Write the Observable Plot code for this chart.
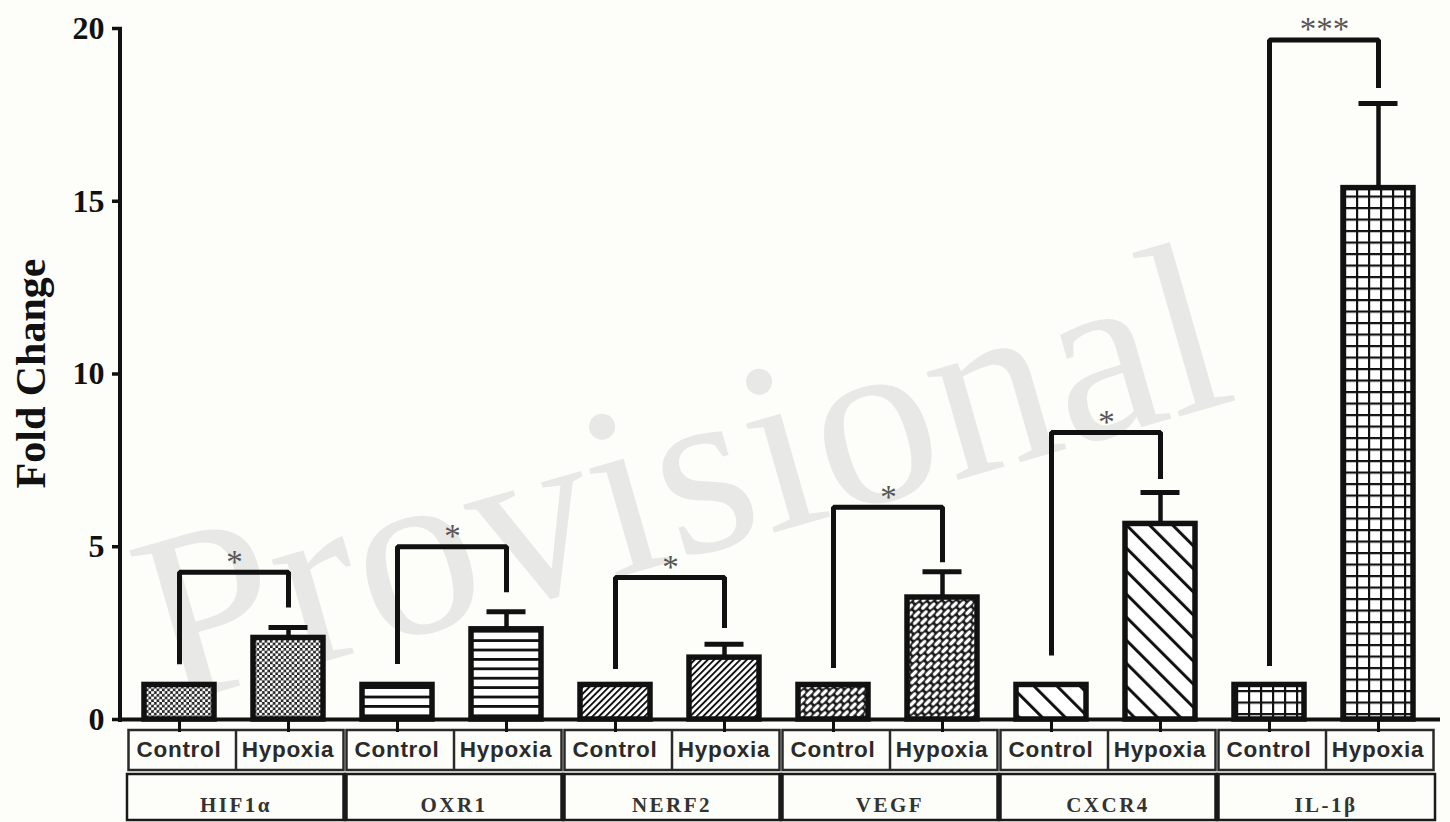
<!DOCTYPE html>
<html>
<head>
<meta charset="utf-8">
<script src="https://cdn.jsdelivr.net/npm/d3@7"></script>
<script src="https://cdn.jsdelivr.net/npm/@observablehq/plot@0.6"></script>
<style>
  html, body { margin: 0; padding: 0; background: #fdfdf9; }
  #chart { width: 1450px; height: 822px; overflow: hidden; }
</style>
</head>
<body>
<svg width="0" height="0" style="position:absolute">
  <defs>
    <pattern id="pat0" patternUnits="userSpaceOnUse" width="5.4" height="5.4">
      <rect width="5.4" height="5.4" fill="#1e1e1e"/>
      <circle cx="1.35" cy="1.35" r="1.6" fill="#fff"/>
      <circle cx="4.05" cy="4.05" r="1.6" fill="#fff"/>
    </pattern>
    <pattern id="pat1" patternUnits="userSpaceOnUse" width="10" height="9.4">
      <rect width="10" height="9.4" fill="#fff"/>
      <rect y="0" width="10" height="2.8" fill="#111"/>
    </pattern>
    <pattern id="pat2" patternUnits="userSpaceOnUse" width="4.6" height="10" patternTransform="rotate(45)">
      <rect width="4.6" height="10" fill="#fff"/>
      <rect width="1.9" height="10" fill="#111"/>
    </pattern>
    <pattern id="pat3" patternUnits="userSpaceOnUse" width="11" height="10" patternTransform="rotate(-45)">
      <rect width="11" height="10" fill="#151515"/>
      <rect x="0.8" y="0.8" width="8.6" height="3.4" rx="1.7" fill="#fff"/>
      <rect x="6.3" y="5.8" width="8.6" height="3.4" rx="1.7" fill="#fff"/>
      <rect x="-4.7" y="5.8" width="8.6" height="3.4" rx="1.7" fill="#fff"/>
    </pattern>
    <pattern id="pat4" patternUnits="userSpaceOnUse" width="16.3" height="10" patternTransform="rotate(-45)">
      <rect width="16.3" height="10" fill="#fff"/>
      <rect width="3" height="10" fill="#111"/>
    </pattern>
    <pattern id="pat5" patternUnits="userSpaceOnUse" width="12" height="11.5">
      <rect width="12" height="11.5" fill="#fff"/>
      <rect width="12" height="2.2" fill="#111"/>
      <rect width="2.2" height="11.5" fill="#111"/>
    </pattern>
  </defs>
</svg>
<div id="chart"></div>
<script>
// ---- data ----
const genes = ["HIF1α", "OXR1", "NERF2", "VEGF", "CXCR4", "IL-1β"];
const conditions = ["Control", "Hypoxia"];
const controlValues = [1, 1, 1, 1, 1, 1];
const hypoxiaValues = [2.36, 2.61, 1.79, 3.53, 5.66, 15.38];
const hypoxiaErrors = [0.30, 0.51, 0.39, 0.75, 0.91, 2.45];
const bracketTops = [4.26, 5.0, 4.11, 6.14, 8.31, 19.67];
const bracketLeftEnds = [1.60, 1.61, 1.46, 1.49, 1.85, 1.55];
const bracketRightEnds = [3.24, 3.68, 2.65, 4.55, 6.96, 18.28];
const significance = ["*", "*", "*", "*", "*", "***"];
const yTicks = [0, 5, 10, 15, 20];
const patterns = ["url(#pat0)", "url(#pat1)", "url(#pat2)", "url(#pat3)", "url(#pat4)", "url(#pat5)"];
const yLabel = "Fold Change";
const watermark = "Provisional";

// ---- build tables ----
const keyOf = (g, c) => g + "|" + c;
const keys = genes.flatMap(g => conditions.map(c => keyOf(g, c)));
const bars = genes.flatMap((g, i) => [
  {key: keyOf(g, "Control"), value: controlValues[i], fill: patterns[i]},
  {key: keyOf(g, "Hypoxia"), value: hypoxiaValues[i], fill: patterns[i]}
]);
const errs = genes.map((g, i) => ({key: keyOf(g, "Hypoxia"), value: hypoxiaValues[i], top: hypoxiaValues[i] + hypoxiaErrors[i]}));
const brackets = genes.flatMap((g, i) => [
  {gene: g, key: keyOf(g, "Control"), y: bracketLeftEnds[i]},
  {gene: g, key: keyOf(g, "Control"), y: bracketTops[i]},
  {gene: g, key: keyOf(g, "Hypoxia"), y: bracketTops[i]},
  {gene: g, key: keyOf(g, "Hypoxia"), y: bracketRightEnds[i]}
]);
const stars = genes.map((g, i) => ({key: keyOf(g, "Control"), y: bracketTops[i], text: significance[i]}));

const W = 1450, H = 822, ML = 122, MR = 10, MT = 28, MB = 103;
const step = (W - ML - MR) / keys.length;
const shift = -2.5;

const chart = Plot.plot({
  width: W, height: H,
  marginLeft: ML, marginRight: MR, marginTop: MT, marginBottom: MB,
  x: {domain: keys, padding: 0},
  y: {domain: [0, 20]},
  color: {type: "identity"},
  style: {background: "transparent", fontFamily: "Liberation Serif", color: "#111", overflow: "visible"},
  marks: [
    Plot.text([watermark], {frameAnchor: "top-left", dx: 655 - ML, dy: 385 - MT, rotate: -16,
      text: d => d, fontSize: 245, fill: "#e8e8e6", fontFamily: "Liberation Serif", textAnchor: "middle"}),
    Plot.barY(bars, {x: "key", y: "value", fill: "fill", stroke: "#111", strokeWidth: 5.5,
      insetLeft: 17, insetRight: 22, strokeLinejoin: "miter"}),
    Plot.ruleX(errs, {x: "key", y1: "value", y2: "top", stroke: "#111", strokeWidth: 4.5, dx: shift}),
    Plot.tickY(errs, {x: "key", y: "top", stroke: "#111", strokeWidth: 5, insetLeft: 32.5, insetRight: 37.5}),
    Plot.line(brackets, {x: "key", y: "y", z: "gene", stroke: "#111", strokeWidth: 5,
      strokeLinejoin: "miter", strokeLinecap: "butt", dx: shift}),
    Plot.text(stars, {x: "key", y: "y", text: "text", dx: step / 2 + shift, dy: -10, fontSize: 33,
      fill: "#555", fontFamily: "Liberation Serif", letterSpacing: 8}),
    Plot.ruleY([0], {stroke: "#111", strokeWidth: 4}),
    Plot.axisY({ticks: yTicks, tickSize: 10, tickPadding: 8, stroke: "#111", strokeWidth: 3.5,
      fontSize: 32, fontWeight: "bold", fontFamily: "Liberation Serif", fill: "#111", letterSpacing: 3,
      label: null, tickFormat: d => String(d)}),
    Plot.axisX({tickSize: 13, stroke: "#111", strokeWidth: 3, dx: shift, tickFormat: () => "", label: null})
  ]
});
document.getElementById("chart").appendChild(chart);

// ---- axis line, axis title and category table (layout drawn from the scales) ----
const svg = d3.select(chart);
const xs = chart.scale("x");
const ys = chart.scale("y");
const bw = xs.bandwidth;
svg.append("line")
  .attr("x1", ML - 2).attr("x2", ML - 2)
  .attr("y1", ys.apply(20) - 1).attr("y2", ys.apply(0) + 3)
  .attr("stroke", "#111").attr("stroke-width", 4);
svg.append("text")
  .attr("transform", `translate(45, ${(ys.apply(0) + ys.apply(20)) / 2}) rotate(-90)`)
  .attr("text-anchor", "middle")
  .attr("font-family", "Liberation Serif").attr("font-weight", "bold").attr("font-size", 42)
  .attr("fill", "#111").text(yLabel);

const r1 = {top: 730, bottom: 770};
const r2 = {top: 774, bottom: 820};
const tbl = svg.append("g");
genes.forEach((g, i) => {
  const left = xs.apply(keyOf(g, "Control"));
  const right = xs.apply(keyOf(g, "Hypoxia")) + bw;
  tbl.append("rect").attr("x", left + 1.5).attr("y", r1.top).attr("width", right - left - 3)
    .attr("height", r1.bottom - r1.top).attr("fill", "#fdfdf9").attr("stroke", "#2a2a2a").attr("stroke-width", 2.5);
  tbl.append("line").attr("x1", left + bw).attr("x2", left + bw).attr("y1", r1.top).attr("y2", r1.bottom)
    .attr("stroke", "#2a2a2a").attr("stroke-width", 2.5);
  tbl.append("rect").attr("x", left).attr("y", r2.top).attr("width", right - left)
    .attr("height", r2.bottom - r2.top).attr("fill", "#fdfdf9").attr("stroke", "#1a1a1a").attr("stroke-width", 2.5);
  if (i > 0) tbl.append("line").attr("x1", left).attr("x2", left).attr("y1", r2.top).attr("y2", r2.bottom)
    .attr("stroke", "#1a1a1a").attr("stroke-width", 5.5);
  conditions.forEach((c, j) => {
    tbl.append("text").attr("x", xs.apply(keyOf(g, c)) + bw / 2 + shift).attr("y", 757)
      .attr("text-anchor", "middle").attr("font-family", "Liberation Sans").attr("font-weight", "bold")
      .attr("font-size", 22.5).attr("letter-spacing", 0.7).attr("fill", "#2a2a2a").text(c);
  });
  tbl.append("text").attr("x", (left + right) / 2).attr("y", 812)
    .attr("text-anchor", "middle").attr("font-family", "Liberation Serif").attr("font-weight", "bold")
    .attr("font-size", 21).attr("letter-spacing", 2.5).attr("fill", "#333").text(g);
});
// bring the x ticks above the table
svg.selectAll("g[aria-label='x-axis tick']").raise();
</script>
</body>
</html>
